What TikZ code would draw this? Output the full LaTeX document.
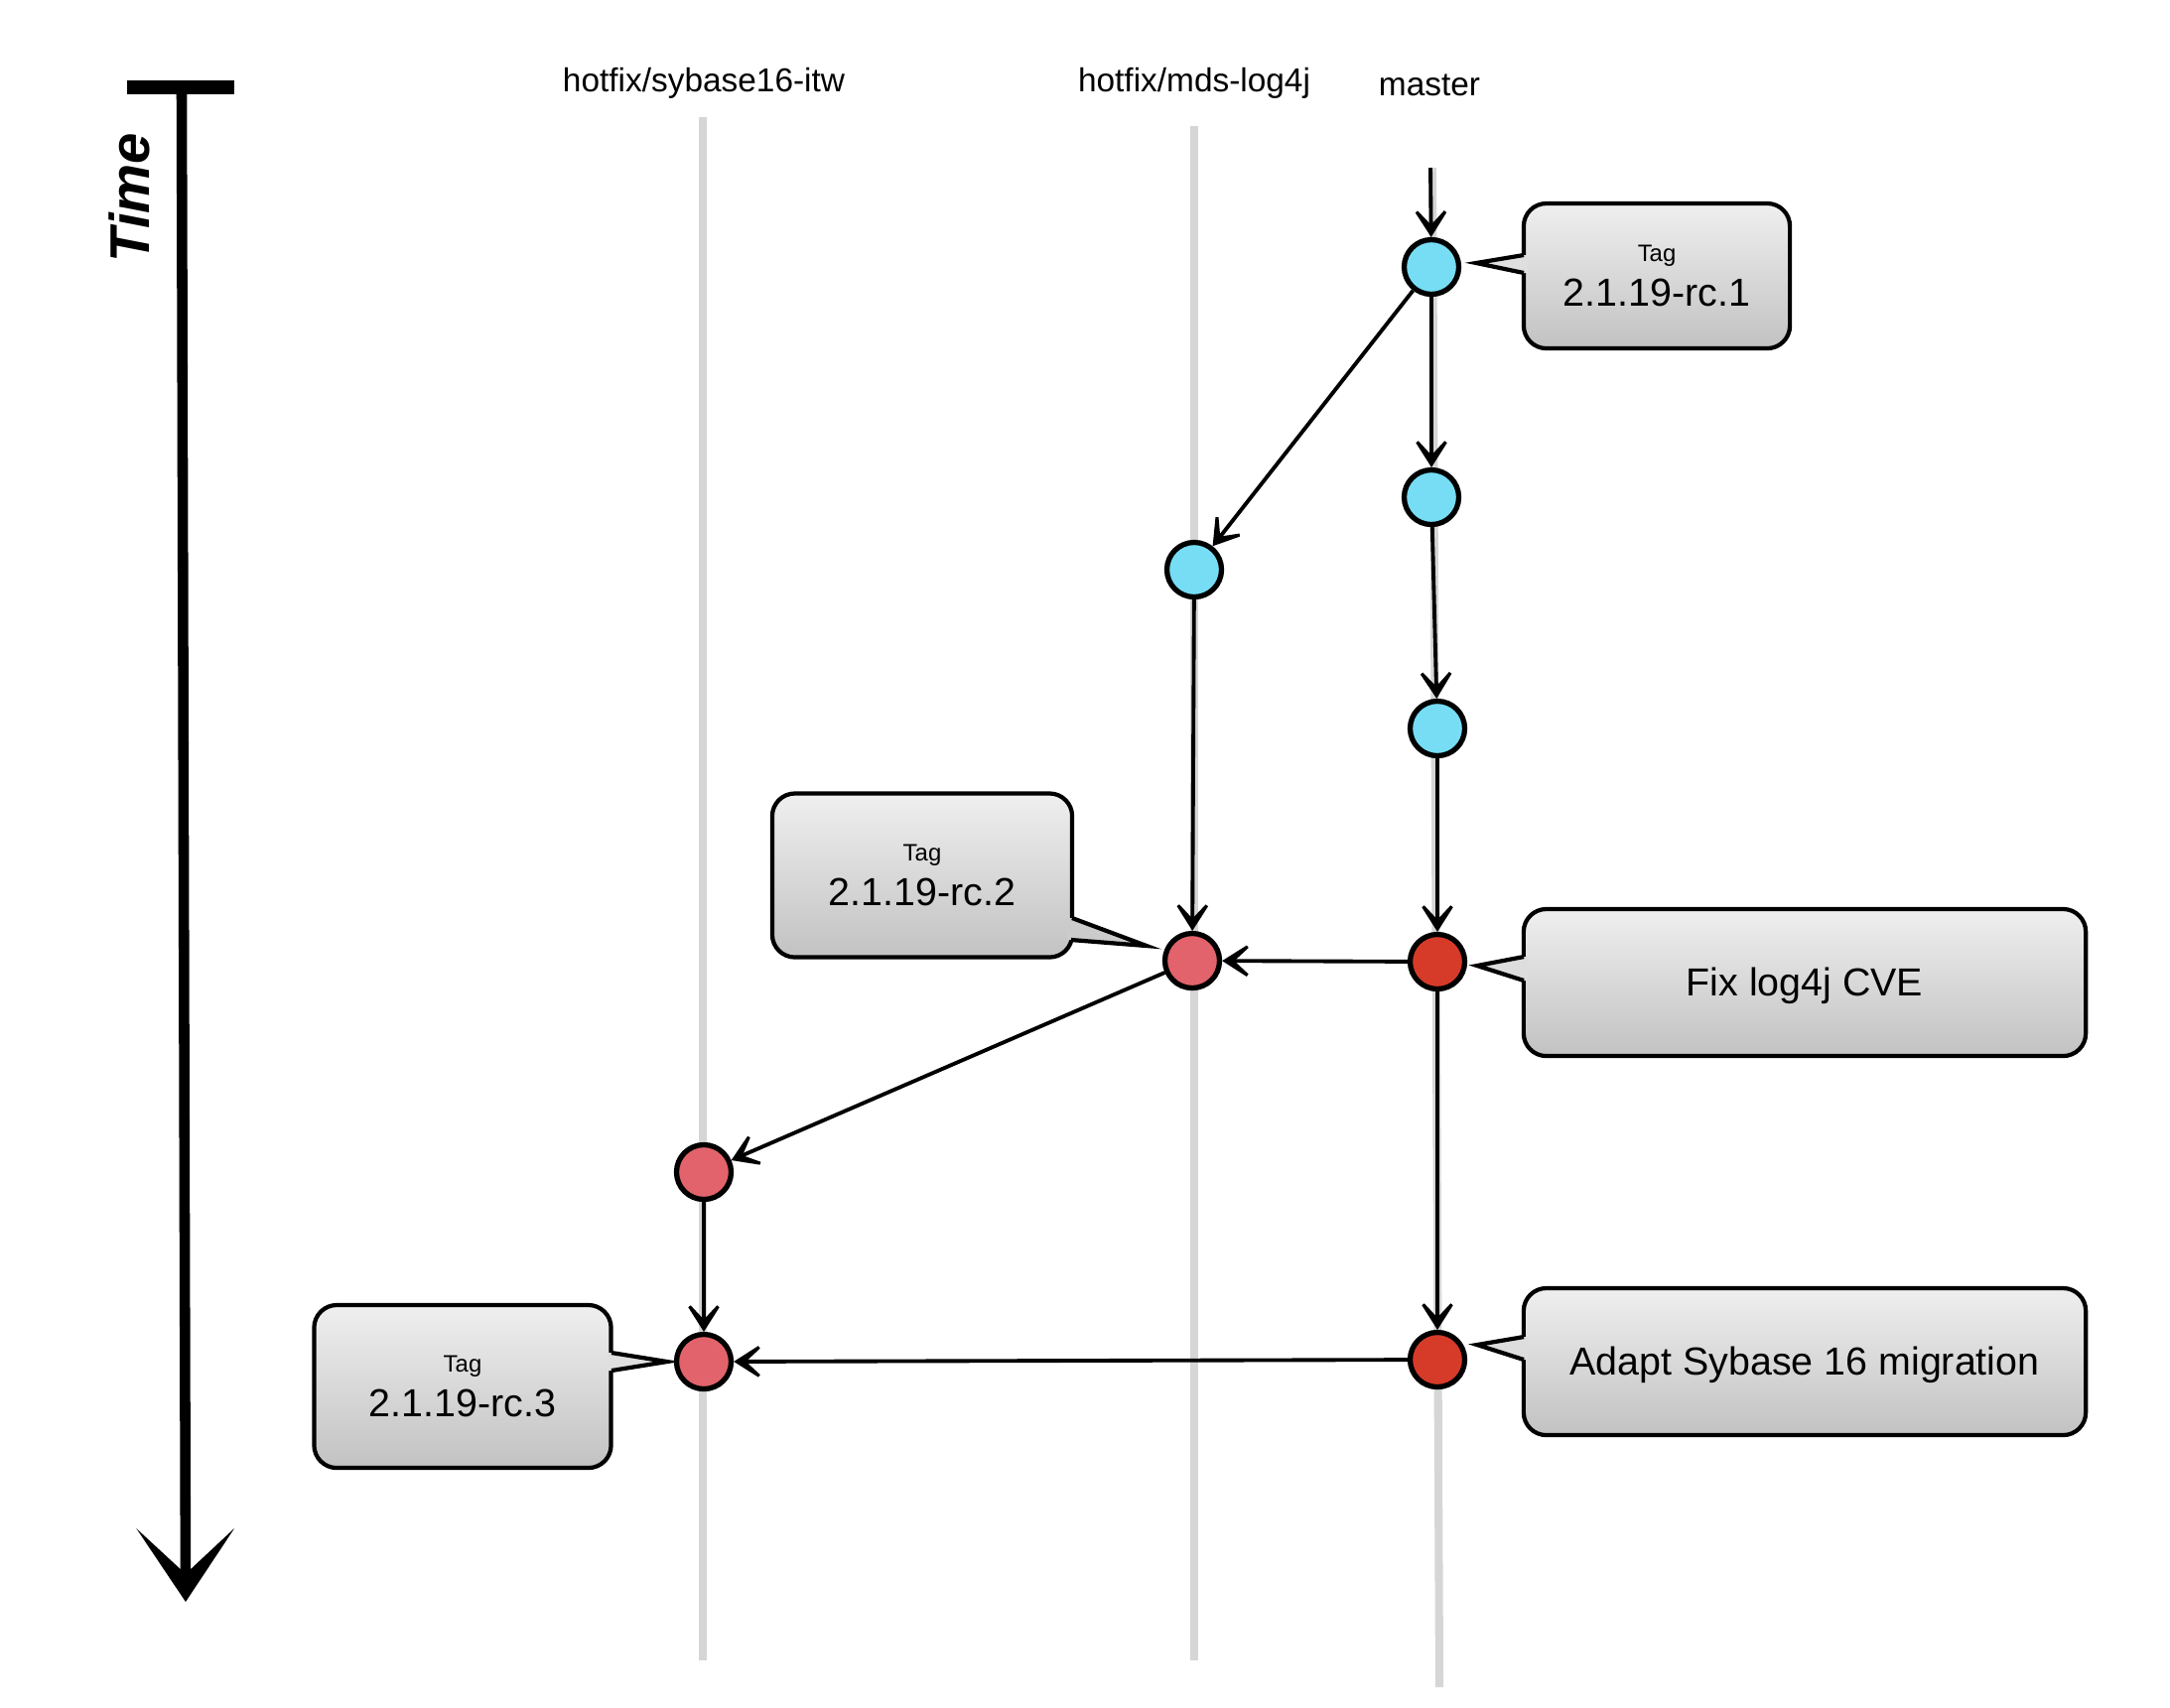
\documentclass[tikz,border=0pt]{standalone}
\usepackage{fontspec}
\setmainfont{Liberation Sans}
\usetikzlibrary{arrows.meta}
\definecolor{commitblue}{HTML}{76DDF5}
\definecolor{fixred}{HTML}{E2636B}
\definecolor{masterred}{HTML}{D63B29}
\definecolor{lanegray}{HTML}{D6D6D6}
\definecolor{boxtop}{HTML}{EFEFEF}
\definecolor{boxbottom}{HTML}{C2C2C2}
\begin{document}
\begin{tikzpicture}[x=0.01cm,y=-0.01cm,
  lane/.style={line width=2.3pt,lanegray},
  commit/.style={circle,draw=black,line width=1.5pt,minimum size=5.5mm,inner sep=0pt},
  flow/.style={line width=1.1pt,-{Stealth[length=11pt,width=14pt,inset=7.5pt]}},
  tagbox/.style={draw=black,line width=1.2pt,rounded corners=6.5pt,top color=boxtop,bottom color=boxbottom,
    align=center,inner sep=0pt,font=\fontsize{11.2}{12.6}\selectfont},
  pointer/.style={draw=black,line width=1.2pt},
  branch/.style={anchor=base,font=\fontsize{9.5}{11}\selectfont}]
\useasboundingbox (0,0) rectangle (2186,1720);

% Time axis
\coordinate (t0) at (183,92);
\coordinate (t1) at (187,1614);
\draw[line width=4pt] (128,88) -- (236,88);
\draw[line width=3pt,-{Stealth[length=21pt,width=28pt,inset=13pt]}] (t0) -- (t1);
\node[rotate=90,font=\fontsize{16}{18}\selectfont\bfseries\itshape] (time) at (130,199) {Time};

% Branch lanes
\draw[lane] (708,118) -- (708,1673);
\draw[lane] (1203,127) -- (1203,1673);
\draw[lane] (1443,169) -- (1450,1700);

% Branch names
\node[branch] (sybase) at (709,92) {hotfix/sybase16-itw};
\node[branch] (mds) at (1203,92) {hotfix/mds-log4j};
\node[branch] (master) at (1440,96) {master};

% Commits on master
\node[commit,fill=commitblue] (m1) at (1442,269) {};
\node[commit,fill=commitblue] (m2) at (1442,501) {};
\node[commit,fill=commitblue] (m3) at (1448,734) {};
\node[commit,fill=masterred] (m4) at (1448,969) {};
\node[commit,fill=masterred] (m5) at (1448,1370) {};
% Commits on hotfix/mds-log4j
\node[commit,fill=commitblue] (d1) at (1203,574) {};
\node[commit,fill=fixred] (d2) at (1201,968) {};
% Commits on hotfix/sybase16-itw
\node[commit,fill=fixred] (s1) at (709,1181) {};
\node[commit,fill=fixred] (s2) at (709,1372) {};

% History
\coordinate (m0) at (1441,169);
\draw[flow] (m0) -- (m1);
\foreach \a/\b in {m1/m2,m2/m3,m3/m4,m4/m5,m1/d1,d1/d2,m4/d2,d2/s1,s1/s2,m5/s2}
  \draw[flow] (\a) -- (\b);

% Tag 2.1.19-rc.1
\node[tagbox,minimum width=2.68cm,minimum height=1.46cm] (tag1) at (1669,278)
  {{\fontsize{6.8}{8}\selectfont Tag}\\2.1.19-rc.1};
\fill[boxtop!64!boxbottom] (1487,265) -- (1535,257) -- (1539,257) -- (1539,275) -- (1535,275) -- cycle;
\draw[pointer] (1535,257) -- (1487,265) -- (1535,275);

% Tag 2.1.19-rc.2
\node[tagbox,minimum width=3.02cm,minimum height=1.65cm] (tag2) at (929,882)
  {{\fontsize{6.8}{8}\selectfont Tag}\\2.1.19-rc.2};
\fill[boxtop!20!boxbottom] (1155,953) -- (1080,925) -- (1075,925) -- (1075,947) -- (1080,947) -- cycle;
\draw[pointer] (1080,925) -- (1155,953) -- (1079,947);

% Tag 2.1.19-rc.3
\node[tagbox,minimum width=2.99cm,minimum height=1.64cm] (tag3) at (466,1397)
  {{\fontsize{6.8}{8}\selectfont Tag}\\2.1.19-rc.3};
\fill[boxtop!64!boxbottom] (672,1372) -- (616,1363) -- (612,1363) -- (612,1381) -- (616,1381) -- cycle;
\draw[pointer] (616,1363) -- (672,1372) -- (616,1381);

% Commit messages
\node[tagbox,minimum width=5.66cm,minimum height=1.48cm,text depth=0.5pt] (fix) at (1818,990) {Fix log4j CVE};
\fill[boxtop!60!boxbottom] (1488,973) -- (1535,964) -- (1539,964) -- (1539,988) -- (1535,988) -- cycle;
\draw[pointer] (1535,964) -- (1488,973) -- (1535,988);

\node[tagbox,minimum width=5.66cm,minimum height=1.48cm,text depth=0.5pt] (adapt) at (1818,1372) {Adapt Sybase 16 migration};
\fill[boxtop!60!boxbottom] (1488,1355) -- (1535,1347) -- (1539,1347) -- (1539,1370) -- (1535,1370) -- cycle;
\draw[pointer] (1535,1347) -- (1488,1355) -- (1535,1370);
\end{tikzpicture}
\end{document}
